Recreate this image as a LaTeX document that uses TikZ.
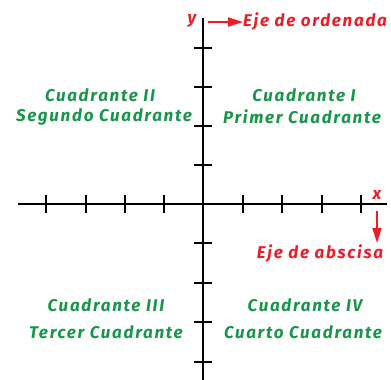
\documentclass[tikz,border=0pt]{standalone}
\usepackage{fontspec}
\setmainfont{Fira Sans}[UprightFont=* Bold, ItalicFont=* Bold Italic]
\usetikzlibrary{arrows.meta}
\definecolor{qgreen}{RGB}{25,150,75}
\definecolor{qred}{RGB}{235,30,40}
\tikzset{
  axisline/.style={line width=2.4pt, black},
  tickmark/.style={line width=2pt, black},
  quadtext/.style={text=qgreen, font=\fontsize{17}{19}\selectfont\itshape\addfontfeatures{LetterSpace=10}, inner sep=0pt},
  redtext/.style={text=qred, font=\fontsize{17}{19}\selectfont\itshape\addfontfeatures{LetterSpace=10}, inner sep=0pt},
  redarrow/.style={qred, line width=1.8pt, -{Triangle[length=15pt,width=9pt]}},
}
\begin{document}
\begin{tikzpicture}[x=1pt,y=-1pt]
\useasboundingbox (0,0) rectangle (391,380);
% axes
\coordinate (xl) at (18,204);
\coordinate (xr) at (387,204);
\coordinate (yt) at (203,18);
\coordinate (yb) at (203,380);
\draw[axisline] (xl) -- (xr);
\draw[axisline] (yt) -- (yb);
% ticks on x
\foreach \t in {46,86,125,164,243,282,322,361}
  \draw[tickmark] (\t,195) -- (\t,213);
% ticks on y
\foreach \t in {48,87,126,165,243,283,322,362}
  \draw[tickmark] (194,\t) -- (212,\t);
% labels
\node[redtext] (ylab) at (192,21) {y};
\node[redtext, anchor=west] (yname) at (243,22) {Eje de ordenada};
\coordinate (yarr) at (208,22);
\draw[redarrow] (yarr) -- (yname.west);
\node[redtext] (xlab) at (377,195) {x};
\coordinate (xarr) at (377,211);
\coordinate (xarrend) at (377,243);
\node[redtext] (xname) at (320,253) {Eje de abscisa};
\draw[redarrow] (xarr) -- (xarrend);
% quadrants
\node[quadtext] (q2a) at (100,95) {Cuadrante II};
\node[quadtext] (q2b) at (104,117) {Segundo Cuadrante};
\node[quadtext] (q1a) at (304,95) {Cuadrante I};
\node[quadtext] (q1b) at (302,117) {Primer Cuadrante};
\node[quadtext] (q3a) at (106,305) {Cuadrante III};
\node[quadtext] (q3b) at (106,332) {Tercer Cuadrante};
\node[quadtext] (q4a) at (305,305) {Cuadrante IV};
\node[quadtext] (q4b) at (303,332) {Cuarto Cuadrante};
\end{tikzpicture}
\end{document}
